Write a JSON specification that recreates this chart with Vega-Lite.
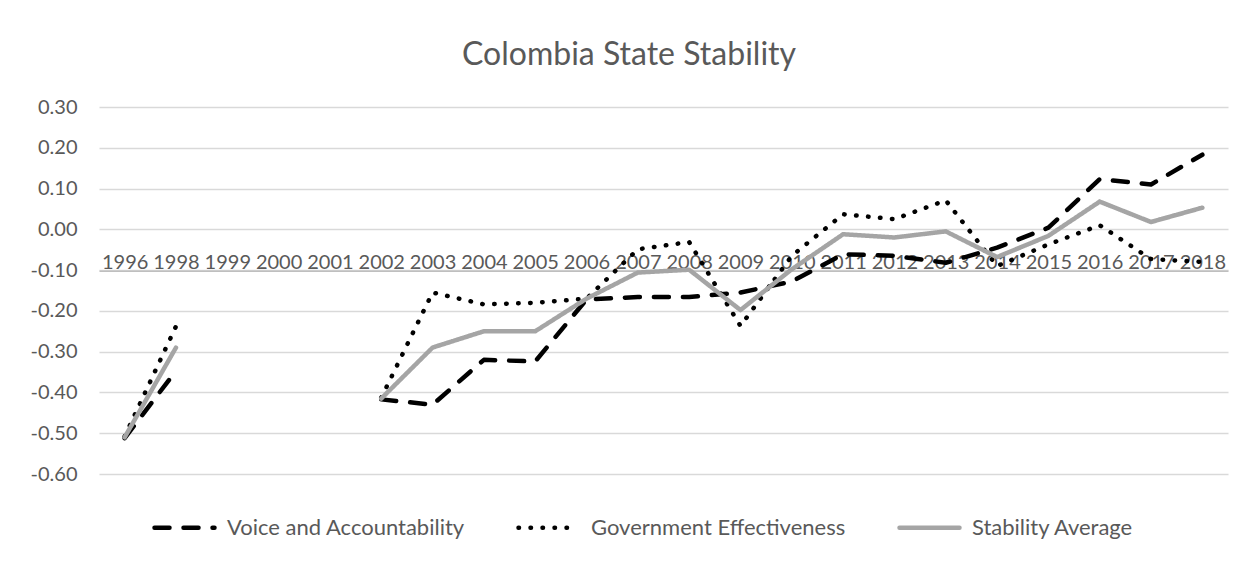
{
  "$schema": "https://vega.github.io/schema/vega-lite/v6.json",
  "autosize": {"type": "none"},
  "width": 1129,
  "height": 367,
  "padding": {"left": 99, "top": 107, "right": 25, "bottom": 88},
  "background": "white",
  "title": {
    "text": "Colombia State Stability",
    "font": "Lato",
    "fontSize": 32,
    "fontWeight": "normal",
    "color": "#595959",
    "anchor": "middle",
    "frame": "bounds",
    "offset": 25
  },
  "config": {
    "view": {"stroke": null},
    "font": "Lato"
  },
  "data": {
    "values": [
      {"year": "1996", "series": "Voice and Accountability", "value": -0.512},
      {"year": "1998", "series": "Voice and Accountability", "value": -0.347},
      {"year": "1999", "series": "Voice and Accountability", "value": null},
      {"year": "2000", "series": "Voice and Accountability", "value": null},
      {"year": "2001", "series": "Voice and Accountability", "value": null},
      {"year": "2002", "series": "Voice and Accountability", "value": -0.417},
      {"year": "2003", "series": "Voice and Accountability", "value": -0.43},
      {"year": "2004", "series": "Voice and Accountability", "value": -0.32},
      {"year": "2005", "series": "Voice and Accountability", "value": -0.324},
      {"year": "2006", "series": "Voice and Accountability", "value": -0.172},
      {"year": "2007", "series": "Voice and Accountability", "value": -0.166},
      {"year": "2008", "series": "Voice and Accountability", "value": -0.166},
      {"year": "2009", "series": "Voice and Accountability", "value": -0.155},
      {"year": "2010", "series": "Voice and Accountability", "value": -0.128},
      {"year": "2011", "series": "Voice and Accountability", "value": -0.061},
      {"year": "2012", "series": "Voice and Accountability", "value": -0.065},
      {"year": "2013", "series": "Voice and Accountability", "value": -0.082},
      {"year": "2014", "series": "Voice and Accountability", "value": -0.045},
      {"year": "2015", "series": "Voice and Accountability", "value": 0.004},
      {"year": "2016", "series": "Voice and Accountability", "value": 0.123},
      {"year": "2017", "series": "Voice and Accountability", "value": 0.11},
      {"year": "2018", "series": "Voice and Accountability", "value": 0.183},
      {"year": "1996", "series": "Government Effectiveness", "value": -0.508},
      {"year": "1998", "series": "Government Effectiveness", "value": -0.238},
      {"year": "1999", "series": "Government Effectiveness", "value": null},
      {"year": "2000", "series": "Government Effectiveness", "value": null},
      {"year": "2001", "series": "Government Effectiveness", "value": null},
      {"year": "2002", "series": "Government Effectiveness", "value": -0.413},
      {"year": "2003", "series": "Government Effectiveness", "value": -0.155},
      {"year": "2004", "series": "Government Effectiveness", "value": -0.184},
      {"year": "2005", "series": "Government Effectiveness", "value": -0.18},
      {"year": "2006", "series": "Government Effectiveness", "value": -0.17},
      {"year": "2007", "series": "Government Effectiveness", "value": -0.049},
      {"year": "2008", "series": "Government Effectiveness", "value": -0.031},
      {"year": "2009", "series": "Government Effectiveness", "value": -0.237},
      {"year": "2010", "series": "Government Effectiveness", "value": -0.065},
      {"year": "2011", "series": "Government Effectiveness", "value": 0.037},
      {"year": "2012", "series": "Government Effectiveness", "value": 0.025},
      {"year": "2013", "series": "Government Effectiveness", "value": 0.071},
      {"year": "2014", "series": "Government Effectiveness", "value": -0.09},
      {"year": "2015", "series": "Government Effectiveness", "value": -0.037},
      {"year": "2016", "series": "Government Effectiveness", "value": 0.01},
      {"year": "2017", "series": "Government Effectiveness", "value": -0.073},
      {"year": "2018", "series": "Government Effectiveness", "value": -0.08},
      {"year": "1996", "series": "Stability Average", "value": -0.51},
      {"year": "1998", "series": "Stability Average", "value": -0.29},
      {"year": "1999", "series": "Stability Average", "value": null},
      {"year": "2000", "series": "Stability Average", "value": null},
      {"year": "2001", "series": "Stability Average", "value": null},
      {"year": "2002", "series": "Stability Average", "value": -0.415},
      {"year": "2003", "series": "Stability Average", "value": -0.29},
      {"year": "2004", "series": "Stability Average", "value": -0.25},
      {"year": "2005", "series": "Stability Average", "value": -0.25},
      {"year": "2006", "series": "Stability Average", "value": -0.17},
      {"year": "2007", "series": "Stability Average", "value": -0.106},
      {"year": "2008", "series": "Stability Average", "value": -0.099},
      {"year": "2009", "series": "Stability Average", "value": -0.198},
      {"year": "2010", "series": "Stability Average", "value": -0.098},
      {"year": "2011", "series": "Stability Average", "value": -0.012},
      {"year": "2012", "series": "Stability Average", "value": -0.02},
      {"year": "2013", "series": "Stability Average", "value": -0.005},
      {"year": "2014", "series": "Stability Average", "value": -0.068},
      {"year": "2015", "series": "Stability Average", "value": -0.016},
      {"year": "2016", "series": "Stability Average", "value": 0.068},
      {"year": "2017", "series": "Stability Average", "value": 0.018},
      {"year": "2018", "series": "Stability Average", "value": 0.053}
    ]
  },
  "mark": {"type": "line", "strokeWidth": 4.5, "strokeCap": "round", "strokeJoin": "round"},
  "encoding": {
    "x": {
      "field": "year",
      "type": "ordinal",
      "scale": {
        "domain": ["1996","1998","1999","2000","2001","2002","2003","2004","2005","2006","2007","2008","2009","2010","2011","2012","2013","2014","2015","2016","2017","2018"],
        "paddingInner": 0,
        "paddingOuter": 0.5
      },
      "axis": {
        "orient": "top",
        "offset": -163.7,
        "title": null,
        "labelAngle": 0,
        "labelFont": "Lato",
        "labelFontSize": 20,
        "labelColor": "#595959",
        "labelBaseline": "alphabetic",
        "labelPadding": 2,
        "labelOverlap": false,
        "ticks": false,
        "domainColor": "#BFBFBF",
        "domainWidth": 1.5,
        "grid": false
      }
    },
    "y": {
      "field": "value",
      "type": "quantitative",
      "scale": {"domain": [-0.6, 0.3], "nice": false, "zero": false},
      "axis": {
        "title": null,
        "values": [-0.6, -0.5, -0.4, -0.3, -0.2, -0.1, 0, 0.1, 0.2, 0.3],
        "labelExpr": "replace(format(datum.value, '.2f'), '\u2212', '-')",
        "labelFont": "Lato",
        "labelFontSize": 20,
        "labelColor": "#595959",
        "labelPadding": 22,
        "ticks": false,
        "domain": false,
        "grid": true,
        "gridColor": "#D9D9D9",
        "gridWidth": 1.5
      }
    },
    "color": {
      "field": "series",
      "type": "nominal",
      "scale": {
        "domain": ["Voice and Accountability", "Government Effectiveness", "Stability Average"],
        "range": ["#000000", "#000000", "#A5A5A5"]
      },
      "legend": {
        "title": null,
        "orient": "none",
        "legendX": 53,
        "legendY": 388,
        "direction": "horizontal",
        "columns": 3,
        "columnPadding": 44,
        "symbolType": "stroke",
        "symbolSize": 3600,
        "symbolStrokeWidth": 4.5,
        "labelFont": "Lato",
        "labelFontSize": 22,
        "labelColor": "#595959",
        "labelOffset": 10,
        "labelLimit": 400,
        "encode": {"symbols": {"update": {"strokeCap": {"value": "round"}}}}
      }
    },
    "strokeDash": {
      "field": "series",
      "type": "nominal",
      "scale": {
        "domain": ["Voice and Accountability", "Government Effectiveness", "Stability Average"],
        "range": [[15, 14], [0.5, 11.5], [1, 0]]
      },
      "legend": {
        "title": null,
        "orient": "none",
        "legendX": 53,
        "legendY": 388,
        "direction": "horizontal",
        "columns": 3,
        "columnPadding": 44,
        "symbolType": "stroke",
        "symbolSize": 3600,
        "symbolStrokeWidth": 4.5,
        "labelFont": "Lato",
        "labelFontSize": 22,
        "labelColor": "#595959",
        "labelOffset": 10,
        "labelLimit": 400,
        "encode": {"symbols": {"update": {"strokeCap": {"value": "round"}}}}
      }
    }
  }
}
